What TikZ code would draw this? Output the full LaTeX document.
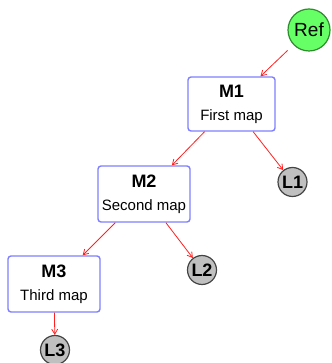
\documentclass[tikz,border=0pt]{standalone}
\usepackage{fontspec}
\setmainfont{Liberation Sans}
\usetikzlibrary{arrows.meta}
\definecolor{boxblue}{HTML}{8080FF}
\definecolor{refgreen}{HTML}{66FF66}
\definecolor{refborder}{HTML}{2E8B2E}
\definecolor{leafgray}{HTML}{C0C0C0}
\definecolor{leafborder}{HTML}{444444}
\definecolor{edgered}{HTML}{FF2020}
\tikzset{
  mapbox/.style={draw=boxblue, line width=1.4pt, rounded corners=3pt, fill=white,
    minimum width=#1, minimum height=56pt, inner sep=0pt, align=center,
    font=\fontsize{15}{23}\selectfont},
  mapbox/.default=92pt,
  refnode/.style={circle, draw=refborder, fill=refgreen, line width=1.2pt,
    minimum size=42pt, inner sep=0pt, font=\fontsize{19}{22}\selectfont},
  leaf/.style={circle, draw=leafborder, fill=leafgray, line width=1.2pt,
    minimum size=29pt, inner sep=0pt, font=\fontsize{18}{21}\selectfont\bfseries},
  link/.style={draw=edgered, line width=0.8pt, -{Straight Barb[length=5pt,width=6pt]}},
  title/.style={font=\fontsize{18}{23}\selectfont\bfseries}
}
\begin{document}
\begin{tikzpicture}[x=1pt,y=1pt]
\useasboundingbox (0,0) rectangle (331,363);
\node[refnode] (ref) at (309,333) {Ref};
\node[mapbox=87pt, minimum height=54pt] (m1) at (231.5,259) {{\fontsize{18}{23}\selectfont\bfseries M1}\\First map};
\node[leaf] (l1) at (292.5,181) {L1};
\node[mapbox] (m2) at (144,169) {{\fontsize{18}{23}\selectfont\bfseries M2}\\Second map};
\node[leaf] (l2) at (202,93) {L2};
\node[mapbox] (m3) at (54,79) {{\fontsize{18}{23}\selectfont\bfseries M3}\\Third map};
\node[leaf] (l3) at (55,13) {L3};
\draw[link, shorten <=8pt] (ref) -- (m1);
\draw[link] (m1) -- (m2);
\draw[link] (m1) -- (l1);
\draw[link] (m2) -- (m3);
\draw[link] (m2) -- (l2);
\draw[link] (m3) -- (l3);
\end{tikzpicture}
\end{document}
